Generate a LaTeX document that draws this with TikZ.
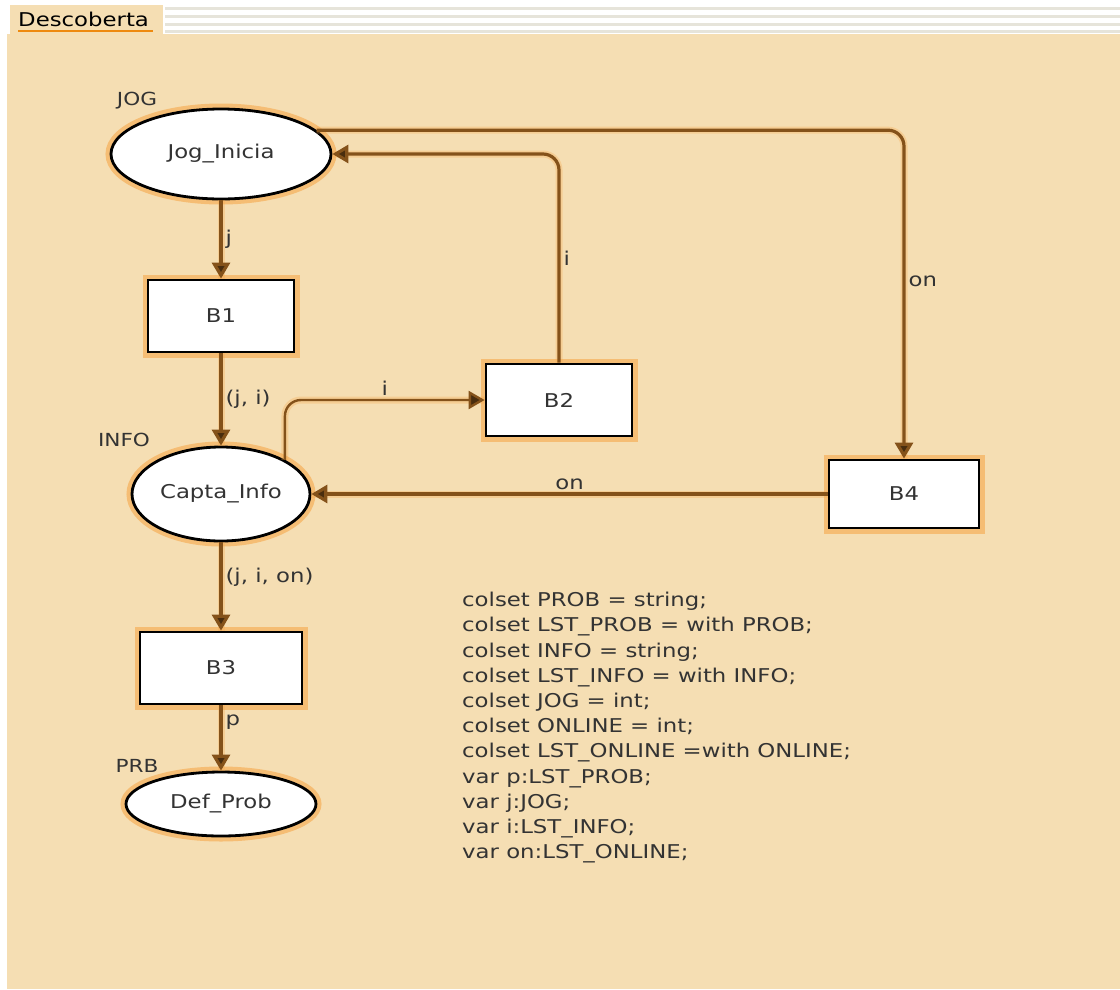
\documentclass[tikz,border=0pt]{standalone}
\usepackage{fontspec}
\setmainfont{DejaVu Sans}[FakeStretch=1.2]
\usepackage{xcolor}
\usetikzlibrary{shapes.geometric, arrows.meta, positioning, calc, backgrounds}
\definecolor{cpnbg}{HTML}{F5DEB3}
\definecolor{arcbrown}{HTML}{84521A}
\definecolor{glow}{HTML}{F6A84A}
\definecolor{tabline}{HTML}{E6E4DA}
\definecolor{tabul}{HTML}{EE8A10}

\begin{document}
\begin{tikzpicture}[x=1pt, y=-1pt,
  every node/.style={font=\fontsize{19}{22}\selectfont, text=black!80},
  glowy/.style={preaction={draw=glow, line width=11pt, opacity=0.6}},
  place/.style={ellipse, draw=black, line width=2.8pt, fill=white, glowy, inner sep=0pt},
  trans/.style={rectangle, draw=black, line width=2.8pt, fill=white, glowy,
                minimum width=146pt, minimum height=72pt, inner sep=0pt},
  ptype/.style={font=\fontsize{18}{20}\selectfont},
  lbl/.style={font=\fontsize{19}{22}\selectfont, inner sep=3pt},
  arc/.style={draw=arcbrown, line width=3.2pt,
              preaction={draw=glow, line width=7pt, opacity=0.3, arrows=-},
              -{Triangle[length=16pt, width=18pt, fill=arcbrown!55!black]},
              rounded corners=16pt}
]
\useasboundingbox (0,0) rectangle (1120,989);
\fill[white] (0,0) rectangle (1120,989);
\fill[cpnbg] (7,34) rectangle (1120,989);

%% tab header
\foreach \yy in {8,16,24,31}
  \draw[tabline, line width=3pt] (165,\yy) -- (1120,\yy);
\fill[cpnbg] (10,5) rectangle (163,34);
\node[anchor=west, text=black, inner sep=0pt] (tab) at (18,19) {Descoberta};
\draw[tabul, line width=2pt] (18,31) -- (153,31);

%% places
\node[place, minimum width=220pt, minimum height=90pt] (jog)  at (221,154) {Jog\_Inicia};
\node[place, minimum width=178pt, minimum height=94pt] (info) at (221,494) {Capta\_Info};
\node[place, minimum width=190pt, minimum height=64pt] (prob) at (221,804) {Def\_Prob};

%% transitions
\node[trans] (b1) at (221,316) {B1};
\node[trans] (b2) at (559,400) {B2};
\node[trans, minimum width=150pt, minimum height=68pt] (b4) at (904,494) {B4};
\node[trans, minimum width=162pt, minimum height=72pt] (b3) at (221,668) {B3};

%% colour set names
\node[ptype] (jogset)  at (137,101) {JOG};
\node[ptype] (infoset) at (124,440) {INFO};
\node[ptype] (probset) at (137,766) {PRB};

%% arcs
\draw[arc] (jog) -- node[lbl, right] {j} (b1);
\draw[arc] (b1) -- node[lbl, right] {(j, i)} (info);
\draw[arc, line width=2.4pt] (info.north east) |- node[lbl, above, pos=0.75] {i} (b2.west);
\draw[arc] (b2.north) |- node[lbl, right, pos=0.25] {i} (jog.east);
\draw[arc] (jog.14) -| node[lbl, right, pos=0.73] {on} (b4.north);
\draw[arc] (b4) -- node[lbl, above] {on} (info);
\draw[arc] (info) -- node[lbl, right, pos=0.4] {(j, i, on)} (b3);
\draw[arc] (b3) -- node[lbl, right, pos=0.25] {p} (prob);

%% declarations
\node[anchor=north west, align=left, inner sep=0pt,
      font=\fontsize{19}{25.2}\selectfont] (decl) at (462,592) {%
colset PROB = string;\\
colset LST\_PROB = with PROB;\\
colset INFO = string;\\
colset LST\_INFO = with INFO;\\
colset JOG = int;\\
colset ONLINE = int;\\
colset LST\_ONLINE =with ONLINE;\\
var p:LST\_PROB;\\
var j:JOG;\\
var i:LST\_INFO;\\
var on:LST\_ONLINE;};
\end{tikzpicture}
\end{document}
